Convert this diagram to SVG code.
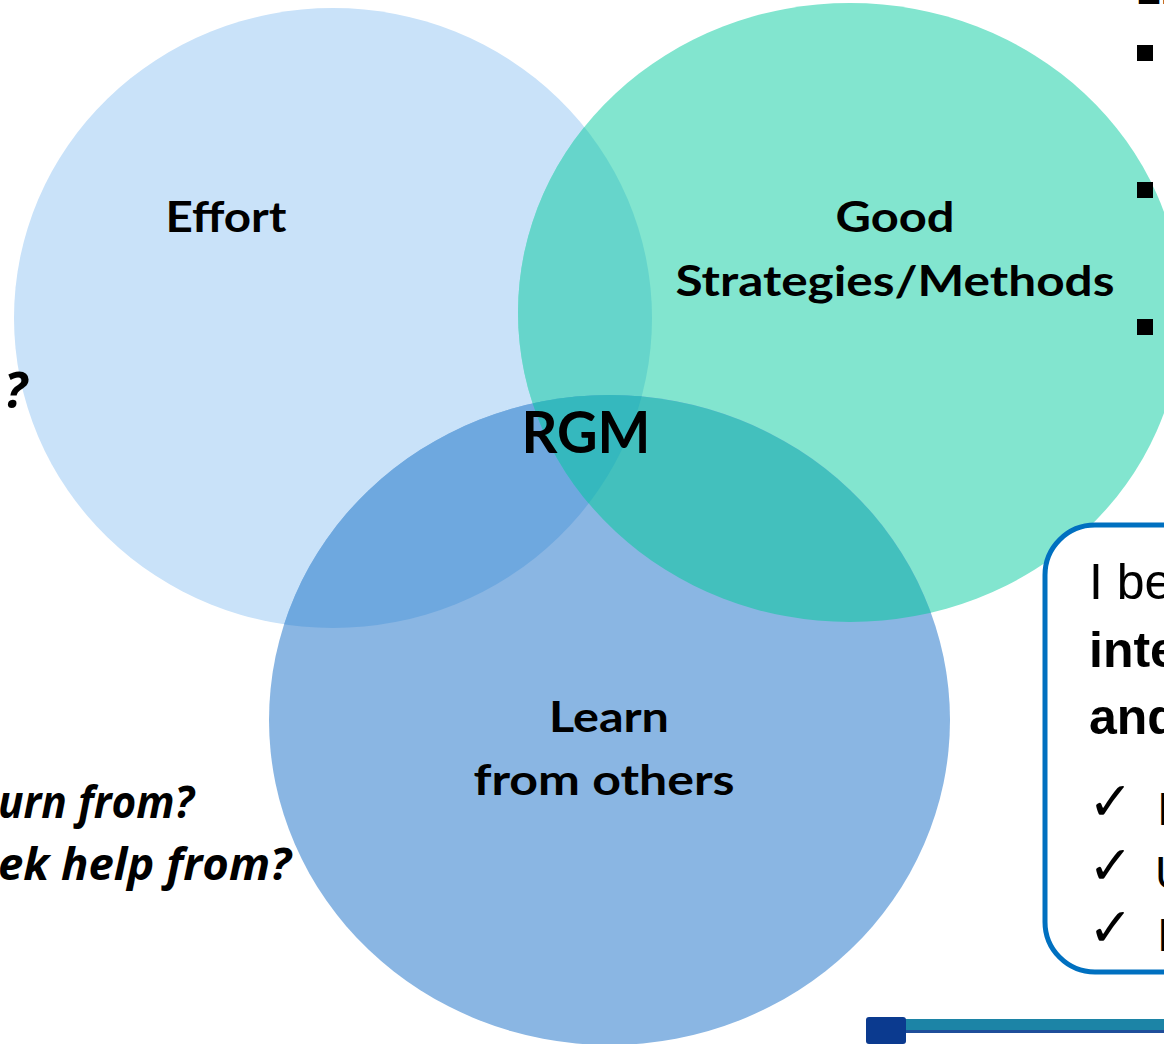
<svg xmlns="http://www.w3.org/2000/svg" width="1164" height="1044" viewBox="0 0 1164 1044">
<style>
.lbl{font-family:Lato,"Open Sans","Liberation Sans",sans-serif;font-weight:bold;font-size:42px;fill:#000;text-anchor:middle}
.q{font-family:"Open Sans",Lato,"Liberation Sans",sans-serif;font-weight:bold;font-style:italic;font-size:44px;fill:#000;text-anchor:end}
.box{font-family:"Liberation Sans",Arial,sans-serif;font-size:50px;fill:#000}
.chk{font-family:"DejaVu Sans",sans-serif;font-size:54px;fill:#000}
.bul{fill:#000}
</style>
<defs>
<clipPath id="cE"><ellipse cx="333" cy="318" rx="319" ry="310"/></clipPath>
<clipPath id="cG"><ellipse cx="850" cy="312.5" rx="332" ry="309.5"/></clipPath>
<clipPath id="cB"><ellipse cx="609.5" cy="720" rx="340.5" ry="325"/></clipPath>
</defs>
<rect width="1164" height="1044" fill="#fff"/>

<g id="effort">
<ellipse cx="333" cy="318" rx="319" ry="310" fill="#C9E2F9"/>
</g>
<g id="good">
<ellipse cx="850" cy="312.5" rx="332" ry="309.5" fill="#82E5CF"/>
</g>
<g id="learn">
<ellipse cx="609.5" cy="720" rx="340.5" ry="325" fill="#8AB6E3"/>
</g>
<g id="overlaps">
<ellipse cx="850" cy="312.5" rx="332" ry="309.5" fill="#66D5CB" clip-path="url(#cE)"/>
<ellipse cx="609.5" cy="720" rx="340.5" ry="325" fill="#6EA8DF" clip-path="url(#cE)"/>
<g clip-path="url(#cG)">
<ellipse cx="609.5" cy="720" rx="340.5" ry="325" fill="#43C0BD"/>
<ellipse cx="333" cy="318" rx="319" ry="310" fill="#35B8BE" clip-path="url(#cB)"/>
</g>
</g>

<g id="labels">
<text class="lbl" x="226" y="232" textLength="121" lengthAdjust="spacingAndGlyphs">Effort</text>
<text class="lbl" x="895" y="232" textLength="119" lengthAdjust="spacingAndGlyphs">Good</text>
<text class="lbl" x="895" y="296" textLength="439" lengthAdjust="spacingAndGlyphs">Strategies/Methods</text>
<text class="lbl" x="586" y="453" style="font-size:58px" textLength="129" lengthAdjust="spacingAndGlyphs">RGM</text>
<text class="lbl" x="609" y="732" textLength="120" lengthAdjust="spacingAndGlyphs">Learn</text>
<text class="lbl" x="604" y="795" textLength="261" lengthAdjust="spacingAndGlyphs">from others</text>
</g>

<g id="questions">
<text class="q" x="27" y="408" style="font-size:50px">?</text>
<text class="q" x="194" y="818" textLength="196" lengthAdjust="spacingAndGlyphs">urn from?</text>
<text class="q" x="291" y="880" textLength="293" lengthAdjust="spacingAndGlyphs">ek help from?</text>
</g>

<g id="bullets">
<text x="1136" y="4" style="font-family:'Liberation Sans',sans-serif;font-weight:bold;font-size:44px">1.</text>
<rect class="bul" x="1137" y="45" width="16" height="16"/>
<rect class="bul" x="1137" y="182" width="16" height="16"/>
<rect class="bul" x="1137" y="319" width="16" height="16"/>
</g>

<g id="belief-box">
<rect x="1045" y="525" width="200" height="447" rx="50" ry="50" fill="#fff" stroke="#0070C0" stroke-width="5"/>
<text class="box" x="1089" y="599">I be</text>
<text class="box" x="1089" y="667" font-weight="bold">inte</text>
<text class="box" x="1089" y="734" font-weight="bold">and</text>
<text class="chk" x="1088" y="820">✓</text>
<text class="chk" x="1088" y="884">✓</text>
<text class="chk" x="1088" y="946">✓</text>
<text class="box" x="1157" y="825" style="font-size:46px">I</text>
<text class="box" x="1155" y="889" style="font-size:46px">U</text>
<text class="box" x="1157" y="951" style="font-size:46px">I</text>
</g>

<g id="corner-bar">
<rect x="900" y="1019" width="264" height="11" fill="#1C84A6"/>
<rect x="900" y="1030" width="264" height="3" fill="#1F4E9A"/>
<rect x="866" y="1017" width="40" height="27" rx="3" fill="#0B3A8F"/>
</g>
</svg>
